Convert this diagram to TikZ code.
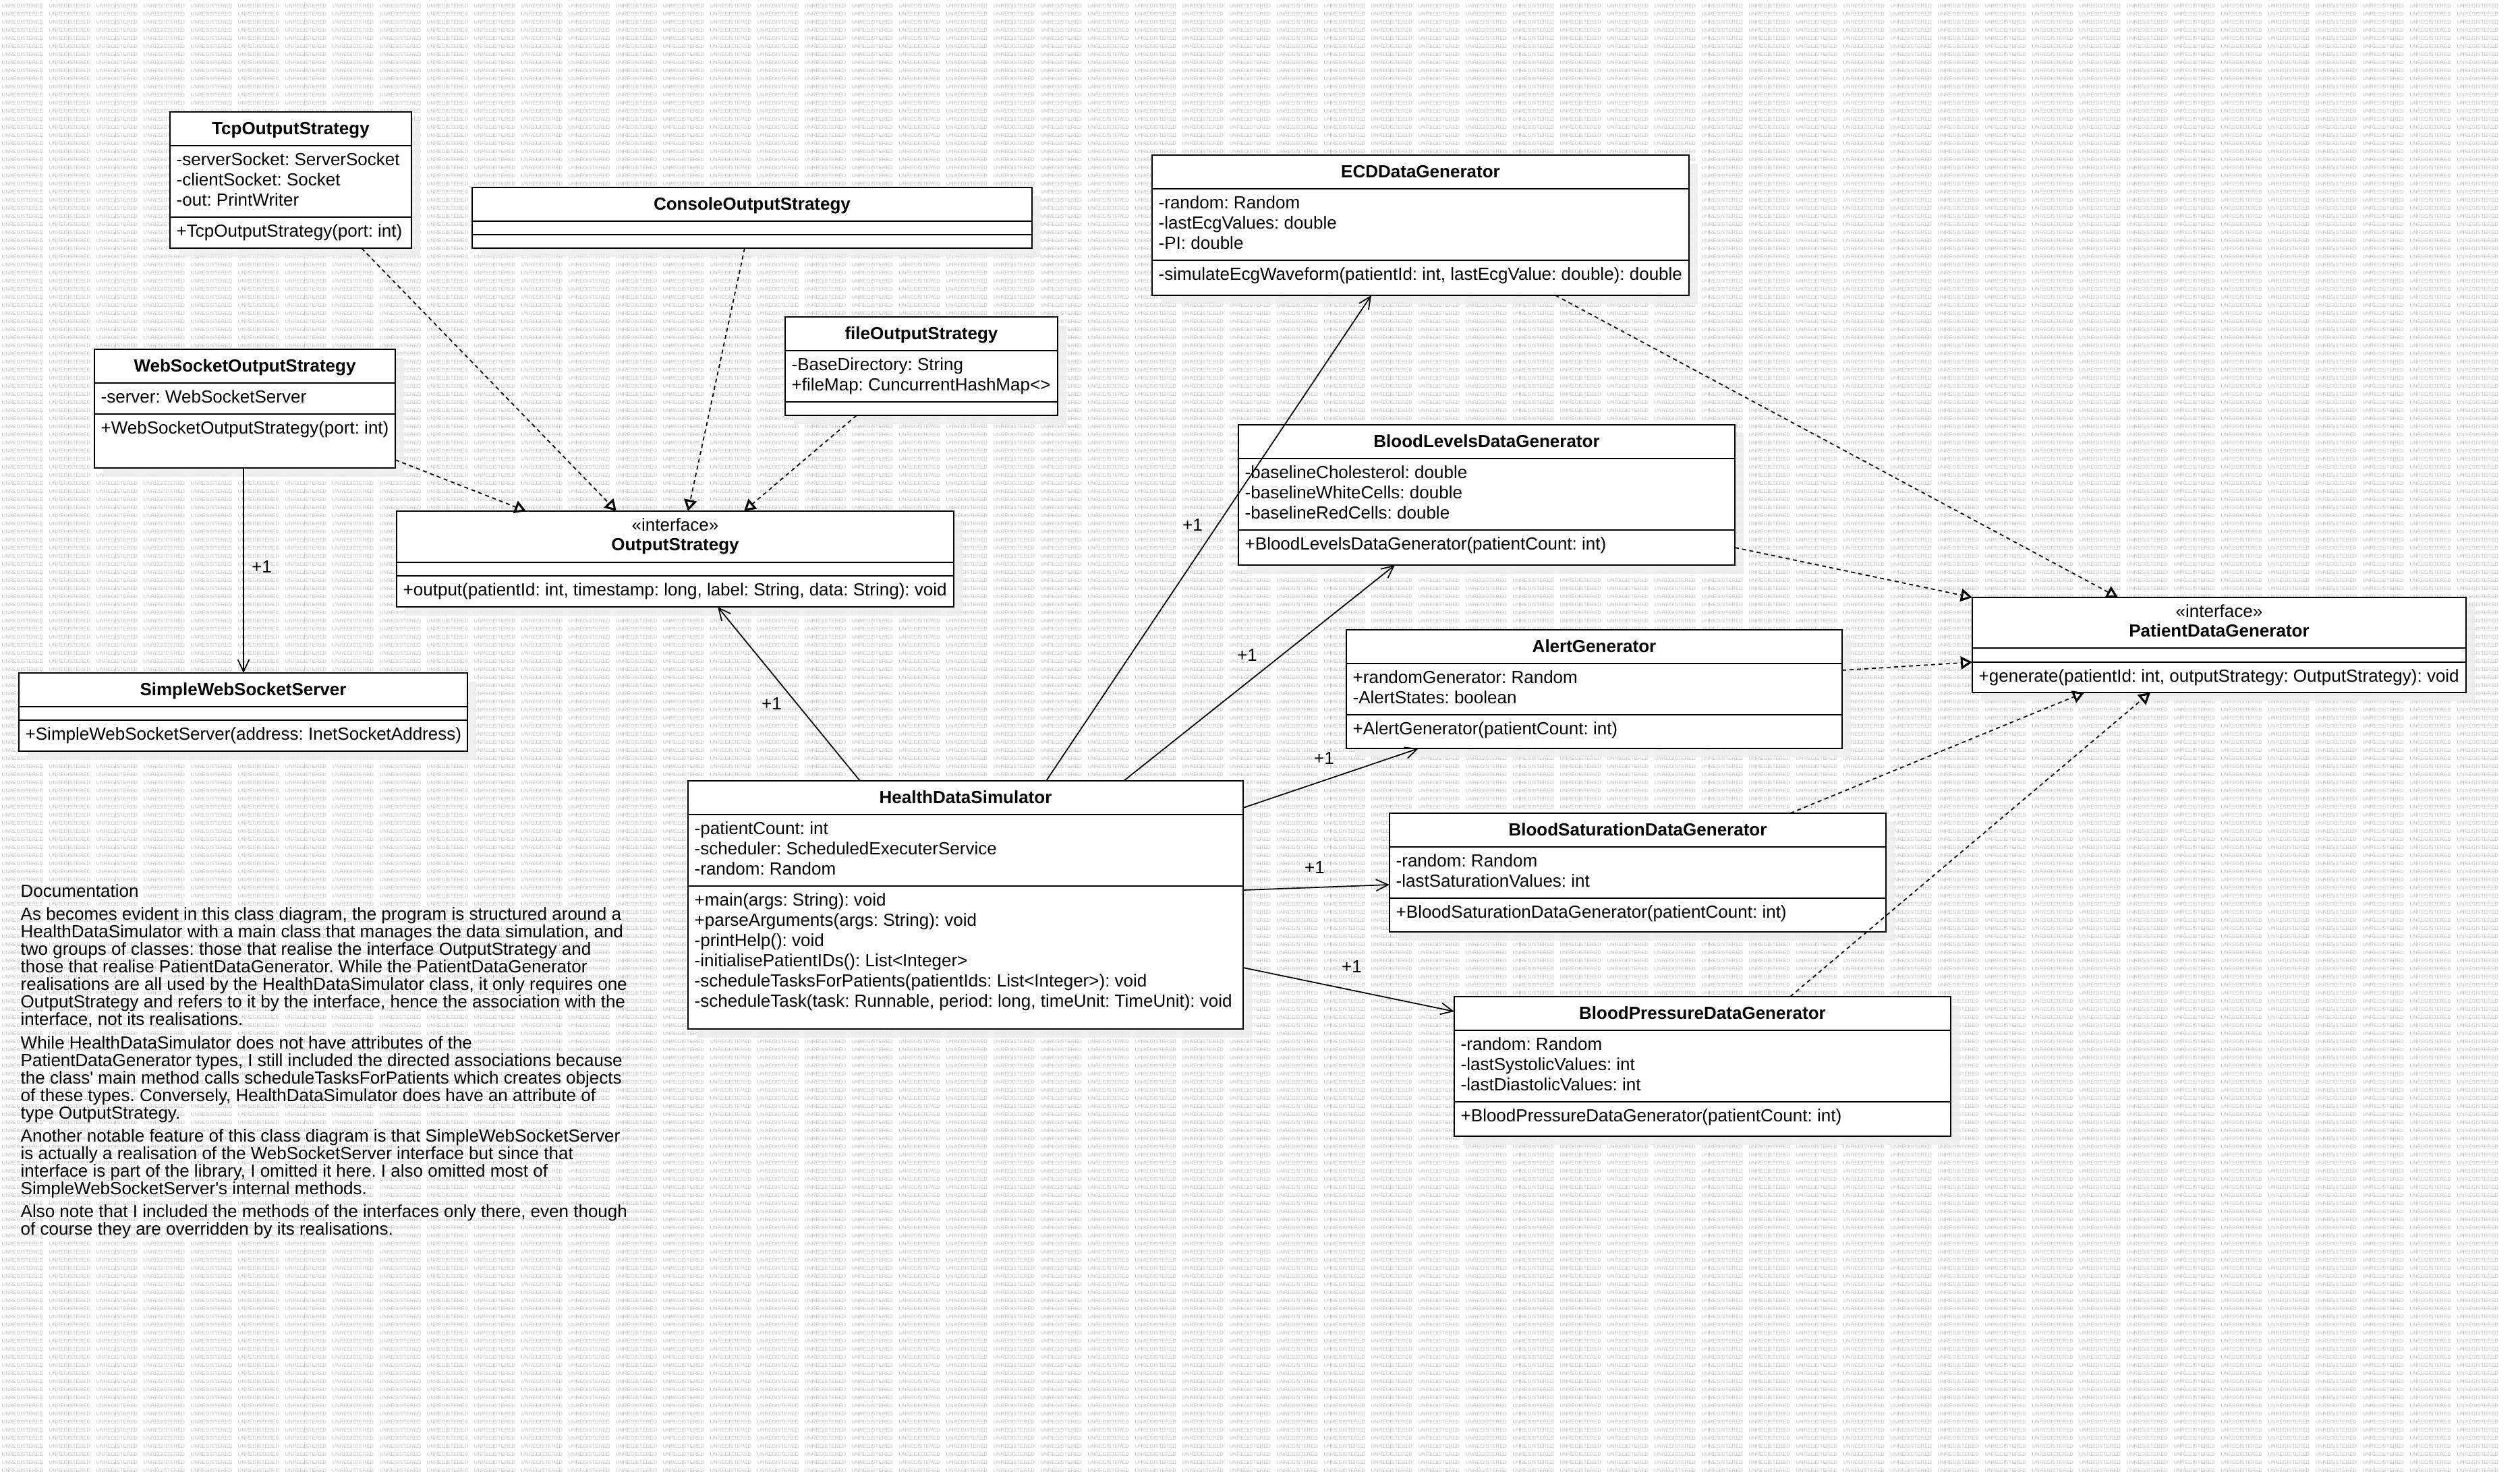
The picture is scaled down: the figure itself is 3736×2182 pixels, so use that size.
\documentclass[tikz,border=0pt]{standalone}
\usepackage{fontspec}
\setmainfont{Liberation Sans}
\usetikzlibrary{arrows.meta,calc}

\definecolor{wmgray}{RGB}{194,194,194}
\definecolor{shadowgray}{RGB}{236,236,236}

% member / label text: 26px Arial-like on a 30px line pitch
\newcommand\memfont{\fontsize{7.4pt}{8.5pt}\selectfont\frenchspacing}
% one row of the tiled background stamp
\newcommand\wmline{\hbox to 374mm{\leaders\hbox to 7mm{UNREGISTERED\hfil}\hfill}}

% class box: name, x-left, x-right, y-top, y-end of header, y-end of attributes, y-bottom
\newcommand\umlclass[7]{%
  \fill[shadowbox] ({#2+13},{#4+13}) rectangle ({#3+13},{#7+13});
  \node[classbox, minimum width={(#3-#2)*0.1mm}, minimum height={(#7-#4)*0.1mm}] (#1) at (#2,#4) {};
  \draw[divider] (#2,#5) -- (#3,#5) (#2,#6) -- (#3,#6);
}
% list of compartment lines: name prefix, x, first baseline, {{line},{line},...}
\newcommand\members[4]{%
  \foreach \txt [count=\k from 0] in {#4}{\node[member] (#1\k) at (#2,{#3+30*\k}) {\txt};}
}

\frenchspacing
\begin{document}
\begin{tikzpicture}[x=0.1mm,y=-0.1mm,
  classbox/.style={draw=black, fill=white, line width=0.6pt, anchor=north west, inner sep=0pt, outer sep=0pt},
  divider/.style={line width=0.6pt},
  shadowbox/.style={fill=shadowgray, fill opacity=0.8},
  clsname/.style={anchor=base, inner sep=0pt, font=\memfont\bfseries},
  stereo/.style={anchor=base, inner sep=0pt, font=\memfont},
  member/.style={anchor=base west, inner sep=0pt, font=\memfont},
  mult/.style={inner sep=0pt, font=\memfont},
  doctext/.style={anchor=base west, inner sep=0pt, font=\memfont},
  wm/.style={anchor=base west, inner sep=0pt, text=wmgray, font=\fontsize{2.2pt}{2.6pt}\selectfont},
  assoc/.style={line width=0.5pt, -{Straight Barb[length=1.8mm,width=1.7mm]}},
  realize/.style={line width=0.5pt, dash pattern=on 0.6mm off 0.5mm, -{Triangle[fill=white, length=1.7mm, width=1.9mm, line width=0.9pt]}}
]
\fill[white] (0,0) rectangle (3736,2182);
\useasboundingbox (0,0) rectangle (3736,2182);

% background stamp
\foreach \r in {0,...,181} \node[wm] (wm\r) at (2,{11+12*\r}) {\wmline};

% ---------- output strategies ----------
\umlclass{tcp}{252}{610}{166}{216}{322}{368}
\node[clsname] (tcp-name) at ($(tcp.north)+(0,33)$) {TcpOutputStrategy};
\members{tcpa}{261}{245}{{-serverSocket: ServerSocket},{-clientSocket: Socket},{-out: PrintWriter}}
\members{tcpm}{261}{351}{{+TcpOutputStrategy(port: int)}}

\umlclass{console}{700}{1530}{278}{328}{348}{368}
\node[clsname] (console-name) at ($(console.north)+(0,33)$) {ConsoleOutputStrategy};

\umlclass{fileout}{1164}{1568}{470}{520}{596}{616}
\node[clsname] (fileout-name) at ($(fileout.north)+(0,33)$) {fileOutputStrategy};
\members{filea}{1173}{549}{{-BaseDirectory: String},{+fileMap: CuncurrentHashMap<>}}

\umlclass{websocket}{140}{586}{518}{568}{614}{694}
\node[clsname] (websocket-name) at ($(websocket.north)+(0,33)$) {WebSocketOutputStrategy};
\members{wsa}{149}{597}{{-server: WebSocketServer}}
\members{wsm}{149}{643}{{+WebSocketOutputStrategy(port: int)}}

\umlclass{outstrat}{588}{1414}{758}{834}{854}{900}
\node[stereo] (outstrat-st) at ($(outstrat.north)+(0,29)$) {«interface»};
\node[clsname] (outstrat-name) at ($(outstrat.north)+(0,58)$) {OutputStrategy};
\members{osm}{597}{883}{{+output(patientId: int, timestamp: long, label: String, data: String): void}}

\umlclass{simpleserver}{28}{693}{998}{1048}{1068}{1114}
\node[clsname] (simpleserver-name) at ($(simpleserver.north)+(0,33)$) {SimpleWebSocketServer};
\members{ssm}{37}{1097}{{+SimpleWebSocketServer(address: InetSocketAddress)}}

% ---------- simulator ----------
\umlclass{hds}{1020}{1843}{1158}{1208}{1314}{1526}
\node[clsname] (hds-name) at ($(hds.north)+(0,33)$) {HealthDataSimulator};
\members{hdsa}{1029}{1237}{{-patientCount: int},{-scheduler: ScheduledExecuterService},{-random: Random}}
\members{hdsm}{1029}{1343}{{+main(args: String): void},{+parseArguments(args: String): void},{-printHelp(): void},{-initialisePatientIDs(): List<Integer>},{-scheduleTasksForPatients(patientIds: List<Integer>): void},{-scheduleTask(task: Runnable, period: long, timeUnit: TimeUnit): void}}

% ---------- data generators ----------
\umlclass{ecd}{1708}{2504}{230}{280}{386}{438}
\node[clsname] (ecd-name) at ($(ecd.north)+(0,33)$) {ECDDataGenerator};
\members{ecda}{1717}{309}{{-random: Random},{-lastEcgValues: double},{-PI: double}}
\members{ecdm}{1717}{415}{{-simulateEcgWaveform(patientId: int, lastEcgValue: double): double}}

\umlclass{bloodlevels}{1836}{2572}{630}{680}{786}{838}
\node[clsname] (bloodlevels-name) at ($(bloodlevels.north)+(0,33)$) {BloodLevelsDataGenerator};
\members{bla}{1845}{709}{{-baselineCholesterol: double},{-baselineWhiteCells: double},{-baselineRedCells: double}}
\members{blm}{1845}{815}{{+BloodLevelsDataGenerator(patientCount: int)}}

\umlclass{alert}{1996}{2731}{934}{984}{1060}{1110}
\node[clsname] (alert-name) at ($(alert.north)+(0,33)$) {AlertGenerator};
\members{ala}{2005}{1013}{{+randomGenerator: Random},{-AlertStates: boolean}}
\members{alm}{2005}{1089}{{+AlertGenerator(patientCount: int)}}

\umlclass{bloodsat}{2060}{2796}{1206}{1256}{1332}{1382}
\node[clsname] (bloodsat-name) at ($(bloodsat.north)+(0,33)$) {BloodSaturationDataGenerator};
\members{bsa}{2069}{1285}{{-random: Random},{-lastSaturationValues: int}}
\members{bsm}{2069}{1361}{{+BloodSaturationDataGenerator(patientCount: int)}}

\umlclass{bloodpress}{2156}{2892}{1478}{1528}{1634}{1685}
\node[clsname] (bloodpress-name) at ($(bloodpress.north)+(0,33)$) {BloodPressureDataGenerator};
\members{bpa}{2165}{1557}{{-random: Random},{-lastSystolicValues: int},{-lastDiastolicValues: int}}
\members{bpm}{2165}{1663}{{+BloodPressureDataGenerator(patientCount: int)}}

\umlclass{patientgen}{2924}{3656}{886}{961}{982}{1027}
\node[stereo] (patientgen-st) at ($(patientgen.north)+(0,29)$) {«interface»};
\node[clsname] (patientgen-name) at ($(patientgen.north)+(0,58)$) {PatientDataGenerator};
\members{pgm}{2933}{1011}{{+generate(patientId: int, outputStrategy: OutputStrategy): void}}

% ---------- realisations ----------
\draw[realize] ($(websocket.north east)+(0,164)$) -- ($(outstrat.north west)+(192,0)$);
\draw[realize] ($(tcp.south west)+(284,0)$) -- ($(outstrat.north west)+(326,0)$);
\draw[realize] ($(console.south west)+(404,0)$) -- ($(outstrat.north west)+(432,0)$);
\draw[realize] ($(fileout.south west)+(106,0)$) -- ($(outstrat.north west)+(515,0)$);

\draw[realize] ($(ecd.south west)+(598,0)$) -- ($(patientgen.north west)+(216,0)$);
\draw[realize] ($(bloodlevels.north east)+(0,182)$) -- (patientgen.north west);
\draw[realize] ($(alert.north east)+(0,60)$) -- ($(patientgen.north west)+(0,96)$);
\draw[realize] ($(bloodsat.north west)+(594,0)$) -- ($(patientgen.south west)+(166,0)$);
\draw[realize] ($(bloodpress.north west)+(498,0)$) -- ($(patientgen.south west)+(264,0)$);

% ---------- directed associations ----------
\draw[assoc] ($(websocket.south west)+(221,0)$) -- ($(simpleserver.north west)+(333,0)$);
\draw[assoc] ($(hds.north west)+(255,0)$) -- ($(outstrat.south west)+(476,0)$);
\draw[assoc] ($(hds.north west)+(531,0)$) -- ($(ecd.south west)+(325,0)$);
\draw[assoc] ($(hds.north west)+(646,0)$) -- ($(bloodlevels.south west)+(232,0)$);
\draw[assoc] ($(hds.north east)+(0,40)$) -- ($(alert.south west)+(107,0)$);
\draw[assoc] ($(hds.north east)+(0,162)$) -- ($(bloodsat.north west)+(0,106)$);
\draw[assoc] ($(hds.north east)+(0,277)$) -- ($(bloodpress.north west)+(0,22)$);

% multiplicities
\node[mult] (m-ws) at (388,841) {+1};
\node[mult] (m-os) at (1144,1044) {+1};
\node[mult] (m-ecd) at (1768,779) {+1};
\node[mult] (m-bl) at (1849,972) {+1};
\node[mult] (m-al) at (1963,1125) {+1};
\node[mult] (m-bs) at (1949,1287) {+1};
\node[mult] (m-bp) at (2004,1434) {+1};

% ---------- documentation note ----------
\node[doctext] (doc-title) at (30,1330) {Documentation};
\foreach \ln [count=\k from 0] in {
  {As becomes evident in this class diagram, the program is structured around a},
  {HealthDataSimulator with a main class that manages the data simulation, and},
  {two groups of classes: those that realise the interface OutputStrategy and},
  {those that realise PatientDataGenerator. While the PatientDataGenerator},
  {realisations are all used by the HealthDataSimulator class, it only requires one},
  {OutputStrategy and refers to it by the interface, hence the association with the},
  {interface, not its realisations.}}
  \node[doctext] (docA\k) at (30,{1364+26.1*\k}) {\ln};
\foreach \ln [count=\k from 0] in {
  {While HealthDataSimulator does not have attributes of the},
  {PatientDataGenerator types, I still included the directed associations because},
  {the class\textquotesingle{} main method calls scheduleTasksForPatients which creates objects},
  {of these types. Conversely, HealthDataSimulator does have an attribute of},
  {type OutputStrategy.}}
  \node[doctext] (docB\k) at (30,{1555+26.1*\k}) {\ln};
\foreach \ln [count=\k from 0] in {
  {Another notable feature of this class diagram is that SimpleWebSocketServer},
  {is actually a realisation of the WebSocketServer interface but since that},
  {interface is part of the library, I omitted it here. I also omitted most of},
  {SimpleWebSocketServer\textquotesingle{}s internal methods.}}
  \node[doctext] (docC\k) at (30,{1693+26*\k}) {\ln};
\foreach \ln [count=\k from 0] in {
  {Also note that I included the methods of the interfaces only there, even though},
  {of course they are overridden by its realisations.}}
  \node[doctext] (docD\k) at (30,{1805+26*\k}) {\ln};
\end{tikzpicture}
\end{document}
